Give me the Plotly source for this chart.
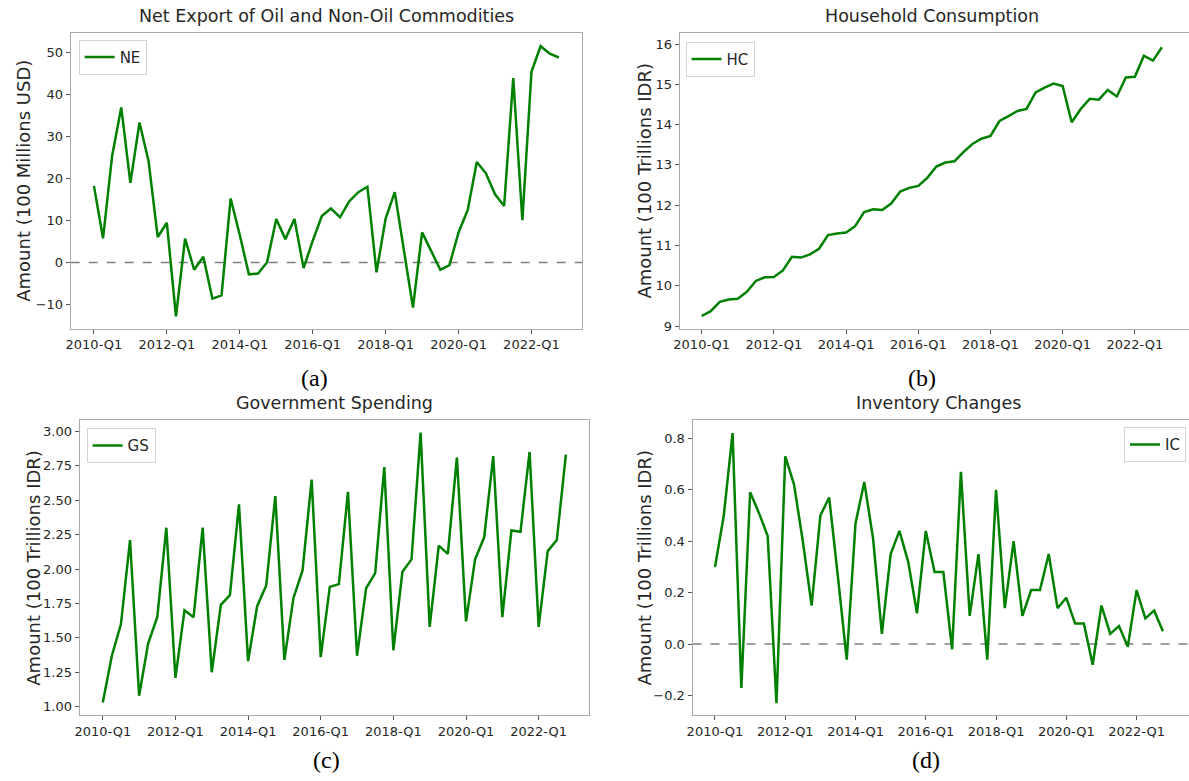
import plotly.graph_objects as go

quarters = [f"{y}-Q{q}" for y in range(2010, 2023) for q in range(1, 5)]
tick_labels = ["2010-Q1", "2012-Q1", "2014-Q1", "2016-Q1", "2018-Q1", "2020-Q1", "2022-Q1"]

ne = [18.3, 5.8, 25.5, 37.0, 19.0, 33.4, 24.1, 6.1, 9.5, -12.8, 5.7, -1.7, 1.4, -8.6, -7.8, 15.3,
      6.6, -2.8, -2.6, 0.1, 10.4, 5.6, 10.4, -1.3, 5.2, 11.1, 12.9, 10.8, 14.6, 16.8, 18.1, -2.3,
      10.5, 16.8, 3.0, -10.7, 7.2, 2.8, -1.7, -0.6, 7.2, 12.5, 24.0, 21.3, 16.3, 13.5, 44.0, 10.1,
      45.5, 51.6, 49.8, 48.9]
hc = [9.25, 9.37, 9.60, 9.66, 9.68, 9.85, 10.12, 10.21, 10.22, 10.38, 10.72, 10.70, 10.78, 10.92,
      11.26, 11.30, 11.32, 11.48, 11.83, 11.90, 11.88, 12.04, 12.34, 12.43, 12.48, 12.68, 12.96,
      13.06, 13.09, 13.32, 13.52, 13.65, 13.72, 14.09, 14.21, 14.34, 14.39, 14.80, 14.92, 15.02,
      14.96, 14.06, 14.39, 14.64, 14.62, 14.86, 14.70, 15.17, 15.19, 15.71, 15.59, 15.92]
gs = [1.03, 1.37, 1.60, 2.21, 1.08, 1.46, 1.65, 2.30, 1.21, 1.70, 1.65, 2.30, 1.25, 1.74, 1.81,
      2.47, 1.33, 1.73, 1.88, 2.53, 1.34, 1.79, 1.99, 2.65, 1.36, 1.87, 1.89, 2.56, 1.37, 1.86,
      1.97, 2.74, 1.41, 1.98, 2.07, 2.99, 1.58, 2.17, 2.11, 2.81, 1.62, 2.07, 2.23, 2.82, 1.65,
      2.28, 2.27, 2.85, 1.58, 2.13, 2.21, 2.83]
ic = [0.30, 0.50, 0.82, -0.17, 0.59, 0.51, 0.42, -0.23, 0.73, 0.62, 0.40, 0.15, 0.50, 0.57, 0.26,
      -0.06, 0.47, 0.63, 0.41, 0.04, 0.35, 0.44, 0.32, 0.12, 0.44, 0.28, 0.28, -0.02, 0.67, 0.11,
      0.35, -0.06, 0.60, 0.14, 0.40, 0.11, 0.21, 0.21, 0.35, 0.14, 0.18, 0.08, 0.08, -0.08, 0.15,
      0.04, 0.07, -0.01, 0.21, 0.10, 0.13, 0.05]

titles = ["Net Export of Oil and Non-Oil Commodities", "Household Consumption",
          "Government Spending", "Inventory Changes"]
ylabels = ["Amount (100 Millions USD)", "Amount (100 Trillions IDR)",
           "Amount (100 Trillions IDR)", "Amount (100 Trillions IDR)"]
names = ["NE", "HC", "GS", "IC"]
panel_tags = ["(a)", "(b)", "(c)", "(d)"]

W, H = 1189, 781
def px(x):
    return x / W
def py(y):
    return 1 - y / H

# pixel boxes: left, right, top, bottom
boxes = [(65, 579, 33, 331), (677, 1189, 33, 331), (74, 586, 423, 720), (690, 1189, 423, 720)]
xranges = [[-2.55, 53.55], [-2.45, 54.0], [-2.55, 53.55], [-2.56, 53.97]]
yranges = [[-15.8, 54.8], [8.93, 16.28], [0.937, 3.08], [-0.277, 0.87]]
ytickvals = [[-10, 0, 10, 20, 30, 40, 50], [9, 10, 11, 12, 13, 14, 15, 16],
             [1.0, 1.25, 1.5, 1.75, 2.0, 2.25, 2.5, 2.75, 3.0], [-0.2, 0, 0.2, 0.4, 0.6, 0.8]]
yticktext = [["\u221210", "0", "10", "20", "30", "40", "50"], None,
             ["1.00", "1.25", "1.50", "1.75", "2.00", "2.25", "2.50", "2.75", "3.00"],
             ["\u22120.2", "0.0", "0.2", "0.4", "0.6", "0.8"]]
ylabel_x = [18, 642, 28, 642]
legend_pos = [(73, 40, "left"), (683, 42, "left"), (81, 431, "left"), (1186, 430, "right")]
tag_pos = [(310, 380), (921, 380), (322, 765), (925, 765)]
series = [ne, hc, gs, ic]

fig = go.Figure()
FONT = "DejaVu Sans"
axis_color = "#a8a8a8"
tick_font = dict(family=FONT, size=13, color="#262626")

layout = dict(width=W, height=H, margin=dict(l=0, r=0, t=0, b=0),
              paper_bgcolor="white", plot_bgcolor="white", showlegend=True,
              annotations=[], shapes=[])

for i in range(4):
    sfx = "" if i == 0 else str(i + 1)
    leg = "legend" if i == 0 else f"legend{i + 1}"
    fig.add_trace(go.Scatter(x=quarters, y=series[i], mode="lines", name=names[i],
                             line=dict(color="#008000", width=2.5),
                             xaxis="x" + sfx, yaxis="y" + sfx, legend=leg))
    l, r, t, b = boxes[i]
    right_edge = r >= W
    layout["xaxis" + sfx] = dict(
        domain=[px(l), min(px(r), 1.0)], anchor="y" + sfx, type="category",
        range=xranges[i], tickmode="array", tickvals=tick_labels, ticktext=tick_labels,
        showgrid=False, zeroline=False, showline=True, linecolor=axis_color, linewidth=1,
        mirror=True, ticks="outside", ticklen=4, tickcolor="#555555", tickwidth=1,
        tickfont=tick_font, tickangle=0)
    yax = dict(
        domain=[py(b), py(t)], anchor="x" + sfx, range=yranges[i],
        tickmode="array", tickvals=ytickvals[i],
        showgrid=False, zeroline=False, showline=True, linecolor=axis_color, linewidth=1,
        mirror=(not right_edge), ticks="outside", ticklen=4, tickcolor="#555555", tickwidth=1,
        tickfont=tick_font)
    if yticktext[i] is not None:
        yax["ticktext"] = yticktext[i]
    layout["yaxis" + sfx] = yax
    lx, ly, anc = legend_pos[i]
    layout[leg] = dict(x=px(lx), y=py(ly), xanchor=anc, yanchor="top",
                       bgcolor="rgba(255,255,255,0.8)", bordercolor="#d4d4d4", borderwidth=1,
                       font=dict(family=FONT, size=15, color="#262626"),
                       itemwidth=30, tracegroupgap=0)
    # title
    cx = (l + 1184) / 2 if right_edge else (l + r) / 2
    layout["annotations"].append(dict(
        text=titles[i], x=px(cx), y=py(t - 5),
        xref="paper", yref="paper", xanchor="center", yanchor="bottom", showarrow=False,
        font=dict(family=FONT, size=17.5, color="#262626")))
    # y label
    layout["annotations"].append(dict(
        text=ylabels[i], x=px(ylabel_x[i]), y=py((t + b) / 2), xref="paper", yref="paper",
        xanchor="center", yanchor="middle", textangle=-90, showarrow=False,
        font=dict(family=FONT, size=18, color="#262626")))
    # panel tag
    tx, ty = tag_pos[i]
    layout["annotations"].append(dict(
        text=panel_tags[i], x=px(tx), y=py(ty), xref="paper", yref="paper",
        xanchor="center", yanchor="middle", showarrow=False,
        font=dict(family="Liberation Serif", size=24, color="black")))

# zero reference lines for NE and IC
for sfx in ["", "4"]:
    layout["shapes"].append(dict(type="line", xref=f"x{sfx} domain", yref=f"y{sfx}",
                                 x0=0, x1=1, y0=0, y1=0,
                                 line=dict(color="#808080", width=1.5, dash="dash"), layer="below"))

fig.update_layout(**layout)
fig.write_html("out.html")
